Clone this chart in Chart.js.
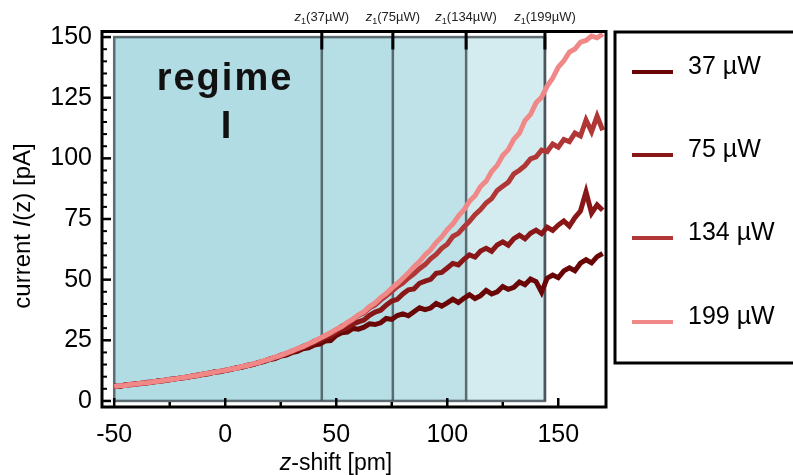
<!DOCTYPE html>
<html>
<head>
<meta charset="utf-8">
<script src="https://cdn.jsdelivr.net/npm/chart.js@4.4.1/dist/chart.umd.min.js"></script>
<style>
  html, body { margin: 0; padding: 0; background: #fff; }
  #wrap { width: 793px; height: 475px; position: relative; overflow: hidden; }
</style>
</head>
<body>
<div id="wrap"><canvas id="chart" width="793" height="475"></canvas></div>
<script>
// ====== Data ======
const zShift = [
  -50, -47.5, -45, -42.5, -40, -37.5, -35, -32.5, -30, -27.5,
  -25, -22.5, -20, -17.5, -15, -12.5, -10, -7.5, -5, -2.5,
  0, 2.5, 5, 7.5, 10, 12.5, 15, 17.5, 20, 22.5,
  25, 27.5, 30, 32.5, 35, 37.5, 40, 42.5, 45, 47.5,
  50, 52.5, 55, 57.5, 60, 62.5, 65, 67.5, 70, 72.5,
  75, 77.5, 80, 82.5, 85, 87.5, 90, 92.5, 95, 97.5,
  100, 102.5, 105, 107.5, 110, 112.5, 115, 117.5, 120, 122.5,
  125, 127.5, 130, 132.5, 135, 137.5, 140, 142.5, 145, 147.5,
  150, 152.5, 155, 157.5, 160, 162.5, 165, 167.5, 170
];

const current37 = [
  6.2, 6.0, 6.6, 6.7, 7.1, 7.2, 7.7, 7.8, 8.3, 8.3,
  8.9, 9.0, 9.6, 9.7, 10.3, 10.4, 11.1, 11.2, 11.9, 12.0,
  12.6, 12.9, 13.6, 13.9, 14.6, 15.0, 15.8, 16.2, 17.1, 17.5,
  18.5, 18.9, 19.9, 20.4, 21.5, 21.9, 23.0, 23.4, 24.7, 24.9,
  27.0, 28.1, 28.4, 29.9, 29.6, 30.4, 31.8, 31.5, 32.2, 34.0,
  33.6, 35.2, 35.9, 35.1, 36.8, 38.4, 37.6, 38.3, 40.2, 39.1,
  40.4, 41.9, 40.6, 42.3, 43.8, 42.2, 43.4, 45.6, 44.1, 45.0,
  47.2, 46.0, 46.8, 49.0, 47.9, 50.3, 49.2, 44.8, 50.6, 51.9,
  50.8, 53.6, 54.9, 53.7, 56.8, 58.2, 56.9, 59.5, 60.8
];

const current75 = [
  6.1, 6.1, 6.5, 6.9, 6.9, 7.4, 7.4, 7.9, 8.0, 8.5,
  8.7, 9.1, 9.5, 9.7, 10.2, 10.6, 10.9, 11.3, 11.9, 12.1,
  12.5, 13.1, 13.5, 14.1, 14.5, 15.1, 15.7, 16.4, 17.1, 17.8,
  18.6, 19.4, 20.2, 21.0, 22.0, 22.9, 23.9, 24.9, 26.0, 26.9,
  28.4, 29.4, 30.1, 31.7, 32.6, 33.4, 35.3, 36.6, 37.4, 39.5,
  41.2, 41.9, 44.1, 45.8, 46.2, 48.5, 49.4, 50.1, 52.6, 53.0,
  54.8, 56.7, 56.1, 58.4, 60.2, 59.3, 61.8, 62.9, 61.7, 64.3,
  65.6, 64.2, 66.9, 68.3, 66.8, 69.1, 70.4, 68.9, 71.6, 70.3,
  72.5, 74.2, 72.1, 75.6, 78.3, 86.2, 77.4, 80.8, 78.6
];

const current134 = [
  5.8, 6.2, 6.6, 6.8, 7.1, 7.2, 7.6, 7.8, 8.2, 8.4,
  8.7, 9.2, 9.4, 9.9, 10.1, 10.7, 10.9, 11.5, 11.7, 12.2,
  12.7, 13.0, 13.7, 14.0, 14.7, 15.1, 15.9, 16.4, 17.3, 17.9,
  18.9, 19.5, 20.6, 21.3, 22.5, 23.3, 24.6, 25.5, 26.9, 27.8,
  29.1, 30.8, 31.9, 33.6, 35.2, 36.3, 38.4, 39.6, 41.6, 43.3,
  45.2, 47.1, 48.6, 50.7, 52.4, 54.5, 56.2, 58.6, 60.4, 62.9,
  64.6, 67.8, 69.1, 71.7, 74.0, 76.8, 78.9, 81.6, 83.4, 86.8,
  88.5, 90.2, 93.6, 95.1, 97.0, 99.8, 100.6, 103.4, 102.8, 105.9,
  104.6, 107.8, 106.9, 110.4, 109.2, 115.8, 111.0, 117.4, 111.6
];

const current199 = [
  6.0, 6.3, 6.4, 6.9, 7.0, 7.4, 7.5, 7.9, 8.1, 8.5,
  8.8, 9.0, 9.6, 9.8, 10.3, 10.5, 11.1, 11.4, 11.8, 12.3,
  12.6, 13.2, 13.5, 14.2, 14.6, 15.3, 15.8, 16.6, 17.2, 18.1,
  18.8, 19.7, 20.5, 21.6, 22.4, 23.6, 24.5, 25.8, 26.9, 28.2,
  29.6, 30.6, 32.4, 33.7, 35.5, 36.8, 38.9, 40.4, 42.6, 44.3,
  46.5, 48.4, 50.6, 52.8, 55.3, 57.4, 60.2, 62.3, 65.3, 67.6,
  70.6, 72.9, 76.2, 78.8, 82.3, 84.6, 88.4, 90.6, 94.6, 97.1,
  101.2, 103.6, 107.9, 110.4, 115.6, 118.1, 122.9, 125.2, 129.8, 133.1,
  137.6, 140.2, 143.8, 145.1, 147.9, 148.6, 150.4, 149.7, 151.3
];

const seriesLabels = ["37 µW", "75 µW", "134 µW", "199 µW"];
const seriesColors = ["#6b0606", "#8a1717", "#b13737", "#f08888"];

// regime boundaries z1 for each power
const z1Labels = ["(37µW)", "(75µW)", "(134µW)", "(199µW)"];
const z1Values = [43.5, 75.5, 108.5, 144];
const regimeStart = -50;
const regimeTop = 150;
const regimeColors = ["#b1dce3", "#b6dee5", "#bee2e8", "#d4ecf0"];

const xTicks = [-50, 0, 50, 100, 150];
const xMinorTicks = [-25, 25, 75, 125];
const yTicks = [0, 25, 50, 75, 100, 125, 150];
const yMinorTicks = [5, 10, 15, 20, 30, 35, 40, 45, 55, 60, 65, 70, 80, 85, 90, 95, 105, 110, 115, 120, 130, 135, 140, 145];

const FONT = "'Liberation Sans', Arial, sans-serif";

// ====== Mixed font text helper ======
function drawRuns(ctx, runs, cx, cy) {
  let total = 0;
  runs.forEach(r => { ctx.font = r.font; r.w = ctx.measureText(r.text).width; total += r.w; });
  let x = cx - total / 2;
  runs.forEach(r => {
    ctx.font = r.font;
    ctx.fillText(r.text, x, cy + (r.dy || 0));
    x += r.w;
  });
}

// ====== Decorations plugin ======
const decor = {
  id: 'decor',
  beforeDatasetsDraw(chart) {
    const { ctx, scales: { x, y } } = chart;
    const yb = y.getPixelForValue(0), yt = y.getPixelForValue(regimeTop);
    const edges = [regimeStart, ...z1Values];
    ctx.save();
    for (let i = 0; i < z1Values.length; i++) {
      const xa = x.getPixelForValue(edges[i]), xb = x.getPixelForValue(edges[i + 1]);
      ctx.fillStyle = regimeColors[i];
      ctx.fillRect(xa, yt, xb - xa, yb - yt);
    }
    ctx.strokeStyle = "rgba(70,85,90,0.85)";
    ctx.lineWidth = 2.5;
    const xl = x.getPixelForValue(regimeStart), xr = x.getPixelForValue(z1Values[3]);
    ctx.strokeRect(xl, yt, xr - xl, yb - yt);
    z1Values.forEach(v => {
      const px = x.getPixelForValue(v);
      ctx.beginPath(); ctx.moveTo(px, yt); ctx.lineTo(px, yb); ctx.stroke();
    });

    // regime I label
    ctx.fillStyle = "#111";
    ctx.textAlign = "center";
    ctx.textBaseline = "alphabetic";
    ctx.font = "bold 38px " + FONT;
    ctx.letterSpacing = "2px";
    ctx.fillText("regime", 225, 90);
    ctx.letterSpacing = "0px";
    ctx.fillText("I", 226, 138);
    ctx.restore();
  },
  afterDatasetsDraw(chart) {
    const { ctx, chartArea: a, scales: { x, y } } = chart;
    ctx.save();
    // frame
    ctx.strokeStyle = "#000";
    ctx.lineWidth = 3;
    ctx.strokeRect(a.left, a.top, a.right - a.left, a.bottom - a.top);

    // inward ticks
    ctx.lineWidth = 2.5;
    xTicks.forEach(v => { const p = x.getPixelForValue(v); ctx.beginPath(); ctx.moveTo(p, a.bottom); ctx.lineTo(p, a.bottom - 9); ctx.stroke(); });
    xMinorTicks.forEach(v => { const p = x.getPixelForValue(v); ctx.beginPath(); ctx.moveTo(p, a.bottom); ctx.lineTo(p, a.bottom - 5); ctx.stroke(); });
    yTicks.forEach(v => { const p = y.getPixelForValue(v); ctx.beginPath(); ctx.moveTo(a.left, p); ctx.lineTo(a.left + 9, p); ctx.stroke(); });
    ctx.lineWidth = 2;
    yMinorTicks.forEach(v => { const p = y.getPixelForValue(v); ctx.beginPath(); ctx.moveTo(a.left, p); ctx.lineTo(a.left + 5, p); ctx.stroke(); });

    // z1 ticks on top and their labels
    ctx.lineWidth = 3;
    ctx.fillStyle = "#222";
    ctx.textAlign = "left";
    ctx.textBaseline = "alphabetic";
    z1Values.forEach((v, i) => {
      const p = x.getPixelForValue(v);
      ctx.beginPath(); ctx.moveTo(p, a.top); ctx.lineTo(p, a.top + 18); ctx.stroke();
      drawRuns(ctx, [
        { text: "z", font: "italic 13px " + FONT },
        { text: "1", font: "9px " + FONT, dy: 3 },
        { text: z1Labels[i], font: "13px " + FONT }
      ], p, 21);
    });

    // axis titles
    ctx.fillStyle = "#000";
    drawRuns(ctx, [
      { text: "z", font: "italic 23px " + FONT },
      { text: "-shift [pm]", font: "23px " + FONT }
    ], 336, 470);
    ctx.save();
    ctx.translate(30, 226);
    ctx.rotate(-Math.PI / 2);
    drawRuns(ctx, [
      { text: "current ", font: "24px " + FONT },
      { text: "I", font: "italic 24px " + FONT },
      { text: "(z) [pA]", font: "24px " + FONT }
    ], 0, 0);
    ctx.restore();

    // legend box
    ctx.lineWidth = 3;
    ctx.strokeStyle = "#000";
    ctx.strokeRect(615, 32, 200, 331);
    const rowY = [72, 155, 238, 322];
    ctx.font = "25px " + FONT;
    ctx.textBaseline = "middle";
    ctx.textAlign = "left";
    seriesLabels.forEach((lab, i) => {
      ctx.strokeStyle = seriesColors[i];
      ctx.lineWidth = 4;
      ctx.beginPath(); ctx.moveTo(632, rowY[i]); ctx.lineTo(673, rowY[i]); ctx.stroke();
      ctx.fillStyle = "#000";
      ctx.fillText(lab, 688, rowY[i] - 5);
    });
    ctx.restore();
  }
};

// ====== Chart ======
const seriesData = [current37, current75, current134, current199];
const datasets = seriesData.map((arr, i) => ({
  label: seriesLabels[i],
  data: zShift.map((z, j) => ({ x: z, y: arr[j] })),
  borderColor: seriesColors[i],
  borderWidth: 5,
  pointRadius: 0,
  tension: 0,
  fill: false,
  order: 3 - i
}));

new Chart(document.getElementById("chart"), {
  type: "line",
  data: { datasets },
  options: {
    responsive: false,
    animation: false,
    layout: { padding: { top: 31.5, right: 187, left: 0, bottom: 0 } },
    plugins: { legend: { display: false }, tooltip: { enabled: false } },
    scales: {
      x: {
        type: "linear", min: -55.5, max: 171.5,
        grid: { display: false, drawTicks: false }, border: { display: false },
        afterBuildTicks: s => { s.ticks = xTicks.map(v => ({ value: v })); },
        afterFit: s => { s.height = 68; },
        ticks: { font: { family: FONT, size: 25 }, color: "#000", padding: 13, maxRotation: 0, autoSkip: false }
      },
      y: {
        min: -2.5, max: 152.3,
        grid: { display: false, drawTicks: false }, border: { display: false },
        afterBuildTicks: s => { s.ticks = yTicks.map(v => ({ value: v })); },
        afterFit: s => { s.width = 102; },
        ticks: { font: { family: FONT, size: 25 }, color: "#000", padding: 10, autoSkip: false }
      }
    }
  },
  plugins: [decor]
});
</script>
</body>
</html>
